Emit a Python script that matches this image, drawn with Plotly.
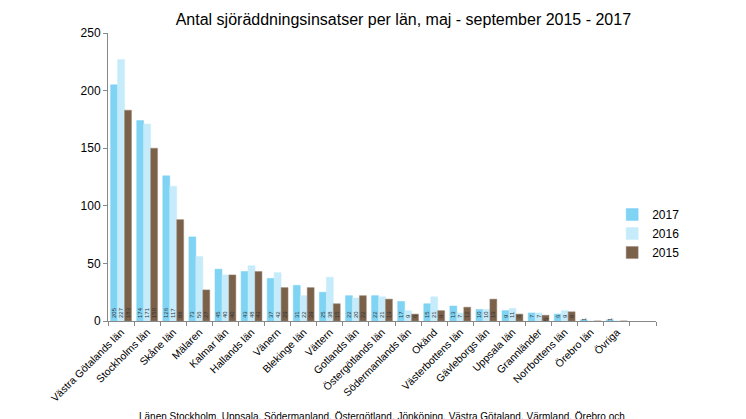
import plotly.graph_objects as go

cats = ["Västra Götalands län","Stockholms län","Skåne län","Mälaren","Kalmar län","Hallands län",
        "Vänern","Blekinge län","Vättern","Gotlands län","Östergötlands län","Södermanlands län",
        "Okänd","Västerbottens län","Gävleborgs län","Uppsala län","Grannländer","Norrbottens län",
        "Örebro län","Övriga","  "]
v2017 = [205,174,126,73,45,43,37,31,25,22,22,17,15,13,10,9,7,6,1,1,None]
v2016 = [227,171,117,56,40,48,42,22,38,20,21,9,21,7,10,11,7,9,0,0,None]
v2015 = [183,150,88,27,40,43,29,29,15,22,19,6,9,12,19,6,5,8,0,0,None]

fig = go.Figure()
for name, vals, col in [("2017", v2017, "#7fd3f3"), ("2016", v2016, "#c6ecfb"), ("2015", v2015, "#7b6149")]:
    fig.add_bar(x=cats, y=vals, name=name, marker_color=col,
                marker_line=dict(color="#9a8a7a" if name=="2015" else col, width=0.5),
                text=[("" if v is None else str(v)) for v in vals], textposition="inside",
                insidetextanchor="start", textangle=-90, textfont=dict(size=6, color="#333"))

fig.update_layout(
    width=746, height=419, barmode="group", bargap=0.2, bargroupgap=0,
    plot_bgcolor="white", paper_bgcolor="white",
    margin=dict(l=100, r=98, t=25, b=106),
    font=dict(family="Liberation Sans, Arial", size=11, color="#000"),
    title=dict(text="Antal sjöräddningsinsatser per län, maj - september 2015 - 2017",
               x=0.53, xanchor="center", y=0.985, yanchor="top", font=dict(size=16)),
    legend=dict(x=0.92, y=0.42, xanchor="left", yanchor="top", traceorder="normal",
                font=dict(size=12), bgcolor="rgba(0,0,0,0)", itemwidth=30),
    xaxis=dict(tickangle=-45, showline=True, linecolor="#888", ticks="outside", automargin=False,
               tickcolor="#888", ticklen=4, tickfont=dict(size=10.5), tickson="boundaries"),
    yaxis=dict(range=[0,250], dtick=50, showline=True, linecolor="#888", ticks="outside",
               tickcolor="#888", ticklen=4, showgrid=False, zeroline=False, tickfont=dict(size=12),
               automargin=False),
    uniformtext=dict(minsize=5, mode="show"),
)
fig.add_annotation(text="Länen Stockholm, Uppsala, Södermanland, Östergötland, Jönköping, Västra Götaland, Värmland, Örebro och",
                   xref="paper", yref="paper", x=0.5, y=-0.305, yanchor="top", showarrow=False,
                   font=dict(size=10))
fig.write_html("out.html")
